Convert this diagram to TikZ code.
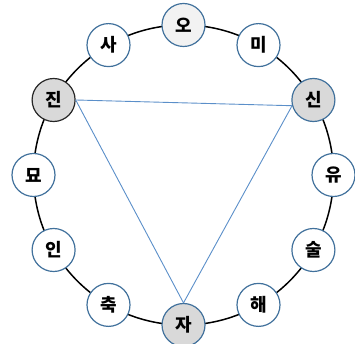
\documentclass[tikz,border=0pt]{standalone}
\usepackage{fontspec}
\newfontfamily\krfont{Noto Sans CJK KR}
\usetikzlibrary{positioning}
\definecolor{branchblue}{HTML}{41719C}
\definecolor{lineblue}{HTML}{5B8FC9}
\definecolor{branchgray}{HTML}{D9D9D9}
\definecolor{palegray}{HTML}{F2F2F2}

\begin{document}
\begin{tikzpicture}[x=1pt, y=1pt,
        % Standard style for every branch circle
        branch/.style={circle, draw=branchblue, line width=1.2pt, fill=white,
        minimum size=43pt, inner sep=0pt,
        font=\krfont\bfseries\fontsize{18}{18}\selectfont},
        % Grey circles at the corners of the triangle
        marked/.style={branch, fill=branchgray},
        % Blue lines of the triangle
        link/.style={draw=lineblue, line width=0.9pt}
    ]
    \useasboundingbox (0,0) rectangle (355,344);

    % --- Outer ring ---
    \coordinate (center) at (183.5,169);
    \draw[line width=1.5pt] (center) circle (150);

    % --- The twelve branches, every 30 degrees ---
    \begin{scope}[shift={(center)}]
    \node[branch, fill=palegray] (b_o) at (90:150) {오};
    \node[branch] (b_mi) at (60:150) {미};
    \node[marked] (b_sin) at (30:150) {신};
    \node[branch] (b_yu) at (0:150) {유};
    \node[branch] (b_sul) at (-30:150) {술};
    \node[branch] (b_hae) at (-60:150) {해};
    \node[marked] (b_ja) at (-90:150) {자};
    \node[branch] (b_chuk) at (-120:150) {축};
    \node[branch] (b_in) at (-150:150) {인};
    \node[branch] (b_myo) at (180:150) {묘};
    \node[marked, draw=black!85] (b_jin) at (150:150) {진};
    \node[branch] (b_sa) at (120:150) {사};
    \end{scope}

    % --- Triangle ---
    \draw[link] (b_jin.east) -- (b_sin.195);
    \draw[link] (b_sin.195) -- (b_ja.north);
    \draw[link] (b_ja.north) -- (b_jin.east);

\end{tikzpicture}
\end{document}
